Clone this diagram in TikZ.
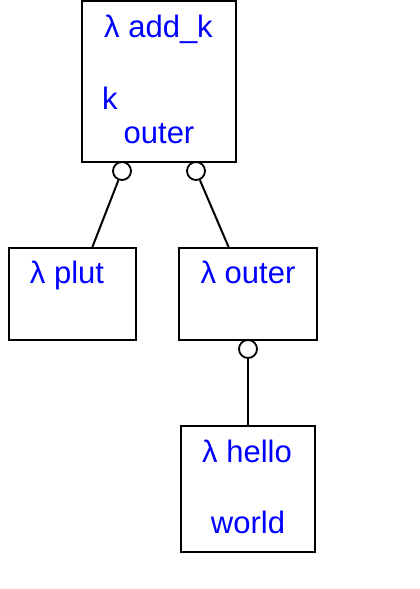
\documentclass[tikz,border=0pt]{standalone}
\usepackage{fontspec}
\setmainfont{Liberation Sans}
\usepackage{tikz}
\usetikzlibrary{positioning}

\begin{document}
\begin{tikzpicture}[
    x=1pt, y=-1pt,
    box/.style={rectangle, draw, line width=2pt, inner sep=0pt},
    lbl/.style={anchor=base, text=blue, inner sep=0pt, font=\fontsize{31}{36}\selectfont},
    port/.style={circle, draw, line width=1.8pt, fill=white, minimum size=18pt, inner sep=0pt},
    link/.style={line width=2pt}
]
    \useasboundingbox (0,0) rectangle (420,589);

    % boxes
    \node[box, minimum width=154pt, minimum height=161pt] (addk) at (159,81.5) {};
    \node[box, minimum width=127pt, minimum height=92pt] (plut) at (72.5,294) {};
    \node[box, minimum width=138pt, minimum height=92pt] (outer) at (248,294) {};
    \node[box, minimum width=134pt, minimum height=126pt] (hello) at (248,489) {};

    % texts
    \node[lbl] (addkname) at (158.5,37) {λ add\_k};
    \node[lbl, anchor=base west] (addkk) at (102,109) {k};
    \node[lbl] (addkouter) at (159,143) {outer};
    \node[lbl] (plutname) at (67,283) {λ plut};
    \node[lbl] (outername) at (248,283) {λ outer};
    \node[lbl] (helloname) at (247,462) {λ hello};
    \node[lbl] (helloworld) at (248,533) {world};

    % ports
    \node[port] (addkp1) at (122,171) {};
    \node[port] (addkp2) at (196,171) {};
    \node[port] (outerp1) at (248,349) {};

    % links
    \coordinate (plutin) at (92,248);
    \coordinate (outerin) at (229,248);
    \draw[link] (addkp1) -- (plutin);
    \draw[link] (addkp2) -- (outerin);
    \draw[link] (outerp1) -- (hello.north);
\end{tikzpicture}
\end{document}
